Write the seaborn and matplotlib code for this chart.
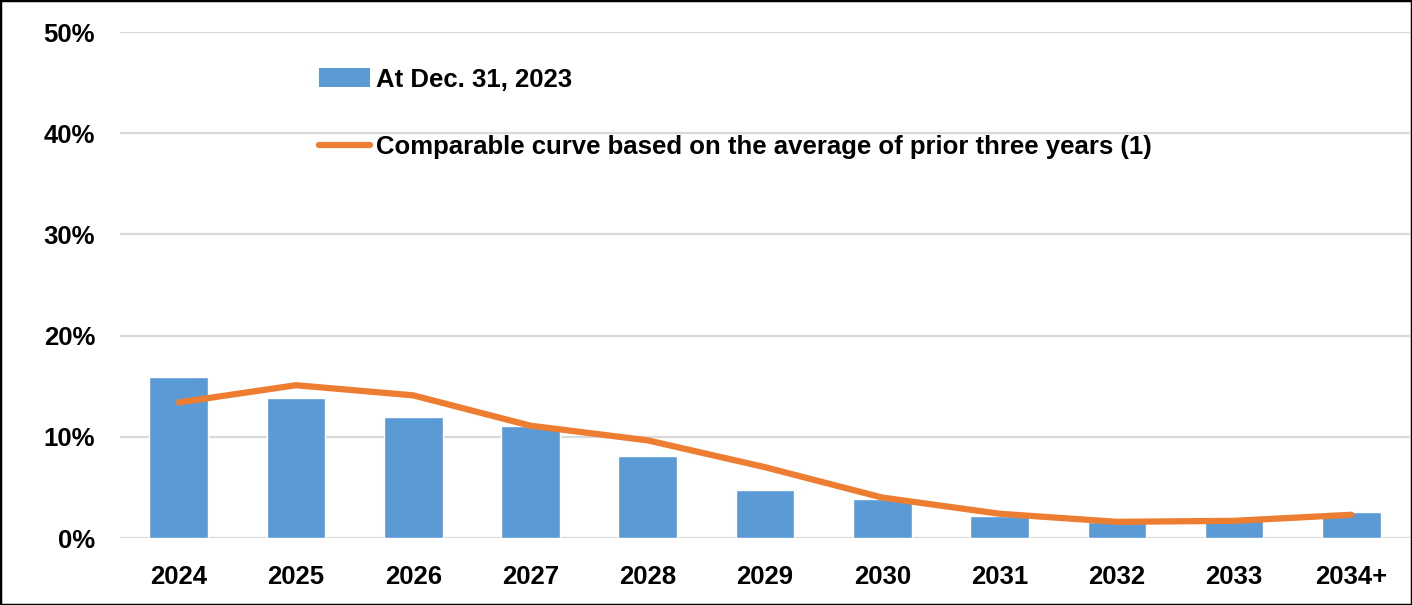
import matplotlib
matplotlib.use("Agg")
from matplotlib import pyplot as plt
from matplotlib.patches import Patch, Rectangle
from matplotlib.lines import Line2D
from matplotlib.ticker import PercentFormatter
import seaborn as sns
import pandas as pd

years = ["2024", "2025", "2026", "2027", "2028", "2029", "2030", "2031", "2032", "2033", "2034+"]
at_dec_2023 = [15.9, 13.8, 12.0, 11.1, 8.1, 4.7, 3.9, 2.2, 1.6, 1.85, 2.6]
comparable = [13.4, 15.1, 14.1, 11.1, 9.65, 7.0, 4.0, 2.4, 1.6, 1.7, 2.3]

bar_label = "At Dec. 31, 2023"
line_label = "Comparable curve based on the average of prior three years (1)"
blue = "#5B9BD5"
orange = "#ED7D31"

sns.set_style("white")
plt.rcParams["font.family"] = ["Liberation Sans", "DejaVu Sans"]
plt.rcParams["font.weight"] = "bold"
plt.rcParams["text.color"] = "black"

df = pd.DataFrame({"year": years, "bars": at_dec_2023, "line": comparable})

fig = plt.figure(figsize=(14.12, 6.05), dpi=100)
ax = fig.add_axes([0.085, 0.1107, 0.9136, 0.8363])

sns.barplot(data=df, x="year", y="bars", color=blue, saturation=1, width=0.5, ax=ax, zorder=2)
sns.lineplot(data=df, x="year", y="line", color=orange, linewidth=4.5, sort=False, ax=ax, zorder=3)

ax.set_ylim(0, 50)
ax.set_xlim(-0.5, len(years) - 0.5)
ax.set_yticks([0, 10, 20, 30, 40, 50])
ax.yaxis.set_major_formatter(PercentFormatter(decimals=0))
ax.grid(axis="y", color="#D9D9D9", linewidth=1.6, zorder=0)
ax.set_axisbelow(True)
for s in ax.spines.values():
    s.set_visible(False)
ax.tick_params(axis="both", length=0, labelsize=18.5, labelcolor="black")
ax.tick_params(axis="y", pad=18)
ax.tick_params(axis="x", pad=19.5)
for lab in ax.get_xticklabels() + ax.get_yticklabels():
    lab.set_fontweight("bold")
ax.set_xlabel("")
ax.set_ylabel("")

handles = [Patch(facecolor=blue, edgecolor="none", label=bar_label),
           Line2D([], [], color=orange, linewidth=4.5, label=line_label)]
ax.legend(handles=handles, loc="upper left", bbox_to_anchor=(0.146, 0.95), frameon=False,
          prop={"size": 18.5, "weight": "bold"}, handlelength=2.0, handleheight=0.75,
          handletextpad=0.22, labelspacing=1.7, borderaxespad=0)

fig.patches.append(Rectangle((0, 0), 1, 1, transform=fig.transFigure, fill=False,
                             edgecolor="black", linewidth=2.5))

fig.savefig("out.png", dpi=100)
